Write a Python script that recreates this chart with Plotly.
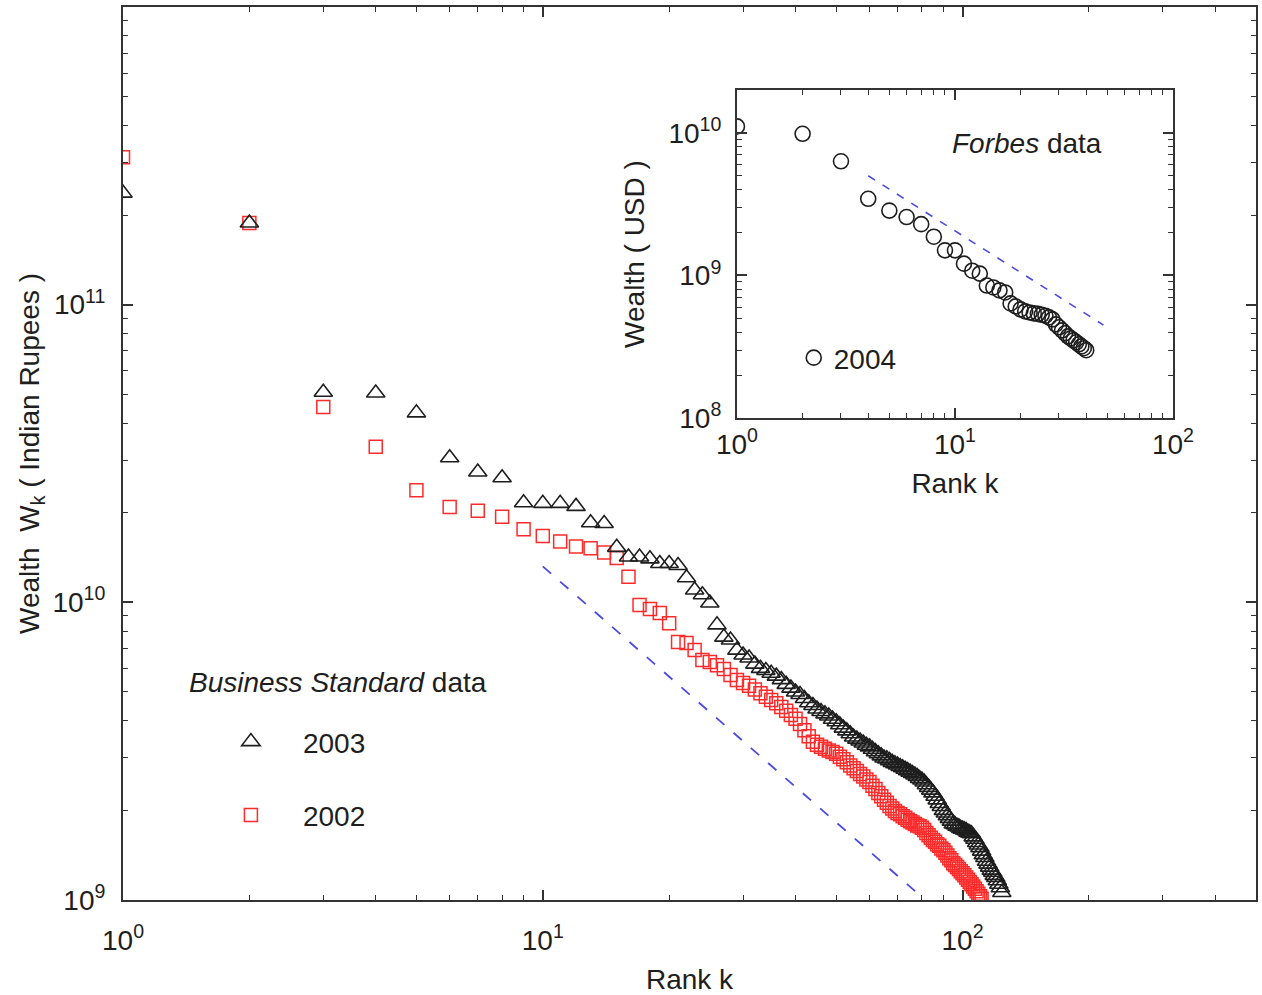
import numpy as np
import plotly.graph_objects as go

# ---- Business Standard data (wealth in units of 1e9 Indian Rupees), ranks 1..N ----
wealth_2003 = [
    237, 188, 50.8, 50.5, 43.3, 30.6, 27.4, 26.2, 21.6, 21.5,
    21.5, 21.0, 18.5, 18.4, 15.3, 14.2, 14.2, 14.0, 13.5, 13.5,
    13.3, 12.1, 11.0, 10.6, 9.95, 8.4, 7.64, 7.47, 6.91, 6.65,
    6.5, 6.2, 6.0, 5.9, 5.78, 5.65, 5.5, 5.3, 5.15, 5.0,
    4.9, 4.75, 4.6, 4.5, 4.38, 4.3, 4.22, 4.15, 4.05, 3.97,
    3.88, 3.78, 3.7, 3.62, 3.53, 3.47, 3.42, 3.37, 3.31, 3.27,
    3.21, 3.15, 3.1, 3.05, 3.0, 2.98, 2.94, 2.9, 2.87, 2.84,
    2.81, 2.78, 2.75, 2.72, 2.69, 2.66, 2.63, 2.6, 2.56, 2.53,
    2.49, 2.44, 2.39, 2.34, 2.29, 2.23, 2.17, 2.11, 2.06, 2.0,
    1.96, 1.92, 1.88, 1.84, 1.8, 1.79, 1.77, 1.76, 1.74, 1.73,
    1.72, 1.71, 1.69, 1.68, 1.67, 1.63, 1.6, 1.56, 1.53, 1.5,
    1.46, 1.42, 1.39, 1.35, 1.32, 1.29, 1.26, 1.24, 1.21, 1.19,
    1.16, 1.13, 1.1, 1.06,
]
wealth_2002 = [
    313, 188, 45.3, 33.3, 23.8, 20.9, 20.3, 19.4, 17.6, 16.7,
    16.0, 15.4, 15.2, 14.7, 14.1, 12.2, 9.8, 9.5, 9.2, 8.5,
    7.36, 7.3, 6.92, 6.4, 6.3, 6.15, 5.97, 5.7, 5.48, 5.36,
    5.25, 5.1, 4.95, 4.82, 4.7, 4.58, 4.45, 4.32, 4.18, 4.06,
    3.9, 3.72, 3.55, 3.4, 3.32, 3.27, 3.22, 3.18, 3.14, 3.1,
    3.03, 2.97, 2.9, 2.83, 2.77, 2.71, 2.65, 2.6, 2.54, 2.49,
    2.42, 2.36, 2.29, 2.23, 2.17, 2.12, 2.07, 2.03, 1.99, 1.96,
    1.94, 1.91, 1.89, 1.86, 1.84, 1.82, 1.8, 1.78, 1.77, 1.75,
    1.72, 1.68, 1.65, 1.62, 1.59, 1.57, 1.54, 1.52, 1.49, 1.47,
    1.44, 1.41, 1.38, 1.36, 1.33, 1.31, 1.29, 1.27, 1.25, 1.23,
    1.21, 1.19, 1.17, 1.15, 1.13, 1.11, 1.09, 1.07, 1.05, 1.03,
    1.01,
]
# ---- Forbes data 2004 (wealth in units of 1e8 USD) ----
wealth_2004 = [
    111, 98.5, 63.2, 34.5, 28.5, 25.7, 22.9, 18.7, 15.0, 15.0,
    12.1, 10.8, 10.3, 8.5, 8.24, 7.86, 7.6, 6.37, 6.07, 5.78,
    5.6, 5.5, 5.42, 5.38, 5.3, 5.22, 5.08, 4.92, 4.54, 4.33,
    4.12, 3.93, 3.74, 3.62, 3.51, 3.4, 3.29, 3.18, 3.09, 2.99,
]

# power-law guide lines: (rank range, wealth at first rank, exponent)
guide_main_k = [10, 81]
guide_main_w0 = 1.32e10
guide_main_exp = -1.23
guide_inset_k = [4, 48]
guide_inset_w0 = 5.0e9
guide_inset_exp = -0.97

rank_2003 = list(range(1, len(wealth_2003) + 1))
rank_2002 = list(range(1, len(wealth_2002) + 1))
rank_2004 = list(range(1, len(wealth_2004) + 1))

y_2003 = [w * 1e9 for w in wealth_2003]
y_2002 = [w * 1e9 for w in wealth_2002]
y_2004 = [w * 1e8 for w in wealth_2004]

def guide(ks, w0, p):
    return [w0 * (k / ks[0]) ** p for k in ks]

FONT = "Liberation Sans, Arial, Helvetica, sans-serif"
FS = 28
INK = "#1e1e1e"
AX = "#333333"
BLUE = "#4a4ae6"
RED = "#ff2b2b"

fig = go.Figure()

fig.add_trace(go.Scatter(
    x=rank_2002, y=y_2002, mode="markers", name="2002",
    marker=dict(symbol="square-open", size=13, color=RED, line=dict(width=1.5, color=RED)),
    legend="legend", legendgroup="g2002", legendrank=2,
    xaxis="x", yaxis="y",
))
fig.add_trace(go.Scatter(
    x=rank_2003, y=y_2003, mode="markers", name="2003",
    marker=dict(symbol="triangle-up-open", size=16, color=INK, line=dict(width=1.6, color=INK)),
    legend="legend", legendgroup="g2003", legendrank=1,
    xaxis="x", yaxis="y",
))
fig.add_trace(go.Scatter(
    x=guide_main_k, y=guide(guide_main_k, guide_main_w0, guide_main_exp),
    mode="lines", line=dict(color=BLUE, width=1.8, dash="11px,12px"),
    showlegend=False, xaxis="x", yaxis="y",
))

fig.add_trace(go.Scatter(
    x=rank_2004, y=y_2004, mode="markers", name="2004",
    marker=dict(symbol="circle-open", size=15, color=INK, line=dict(width=1.6, color=INK)),
    legend="legend2", xaxis="x2", yaxis="y2",
))
fig.add_trace(go.Scatter(
    x=guide_inset_k, y=guide(guide_inset_k, guide_inset_w0, guide_inset_exp),
    mode="lines", line=dict(color=BLUE, width=1.6, dash="8px,9px"),
    showlegend=False, xaxis="x2", yaxis="y2",
))

def log_minor(lo, hi):
    return [m * 10 ** e for e in range(lo, hi) for m in range(2, 10)]

def axis_style(tickvals, ticktext, minor_vals, rng, title, standoff, **kw):
    d = dict(
        type="log", range=rng, showgrid=False, zeroline=False, automargin=False,
        showline=True, linecolor=AX, linewidth=2, mirror="allticks",
        ticks="inside", ticklen=10, tickwidth=1.5, tickcolor=AX,
        tickmode="array", tickvals=tickvals, ticktext=ticktext,
        tickfont=dict(family=FONT, size=FS, color=INK),
        minor=dict(ticks="inside", ticklen=5, tickwidth=1.2, tickcolor=AX,
                   tickmode="array", tickvals=minor_vals, showgrid=False),
        title=dict(text=title, font=dict(family=FONT, size=FS, color=INK), standoff=standoff),
    )
    d.update(kw)
    return d

sup = lambda n: "10<sup>%d</sup>" % n

fig.update_layout(
    width=1262, height=995, autosize=False,
    margin=dict(l=123, r=6, t=7, b=95, autoexpand=False),
    paper_bgcolor="white", plot_bgcolor="white",
    font=dict(family=FONT, size=FS, color=INK),
    xaxis=axis_style([1, 10, 100], [sup(0), sup(1), sup(2)], log_minor(0, 3),
                     [0, np.log10(500)], "Rank k", 15, domain=[0, 1], ticklabelstandoff=14),
    yaxis=axis_style([1e9, 1e10, 1e11, 1e12], [sup(9), sup(10), sup(11), ""], log_minor(9, 12),
                     [9, 12], "Wealth  W<sub>k</sub> ( Indian Rupees )", 5, domain=[0, 1],
                     ticklabelstandoff=10),
    xaxis2=axis_style([1, 10, 100], [sup(0), sup(1), sup(2)], log_minor(0, 2),
                      [0, 2], "Rank k", 15, domain=[0.5419, 0.9267], anchor="y2"),
    yaxis2=axis_style([1e8, 1e9, 1e10], [sup(8), sup(9), sup(10)], log_minor(8, 11),
                      [8, np.log10(2e10)], "Wealth ( USD )", 16, domain=[0.5397, 0.9071],
                      anchor="x2", ticklabelstandoff=8),
    legend=dict(
        x=0.067, y=0.205, xanchor="left", yanchor="top",
        font=dict(family=FONT, size=FS, color=INK),
        itemwidth=94, tracegroupgap=34, bgcolor="rgba(0,0,0,0)",
        traceorder="grouped",
    ),
    legend2=dict(
        x=0.592, y=0.635, xanchor="left", yanchor="top",
        font=dict(family=FONT, size=FS, color=INK),
        itemwidth=30, bgcolor="rgba(0,0,0,0)",
    ),
    annotations=[
        dict(text="<i>Business Standard</i> data", xref="paper", yref="paper",
             x=0.0565, y=0.2441, xanchor="left", yanchor="middle", showarrow=False,
             font=dict(family=FONT, size=FS, color=INK)),
        dict(text="<i>Forbes</i> data", xref="paper", yref="paper",
             x=0.798, y=0.8477, xanchor="center", yanchor="middle", showarrow=False,
             font=dict(family=FONT, size=FS, color=INK)),
    ],
)

fig.write_html("out.html")
